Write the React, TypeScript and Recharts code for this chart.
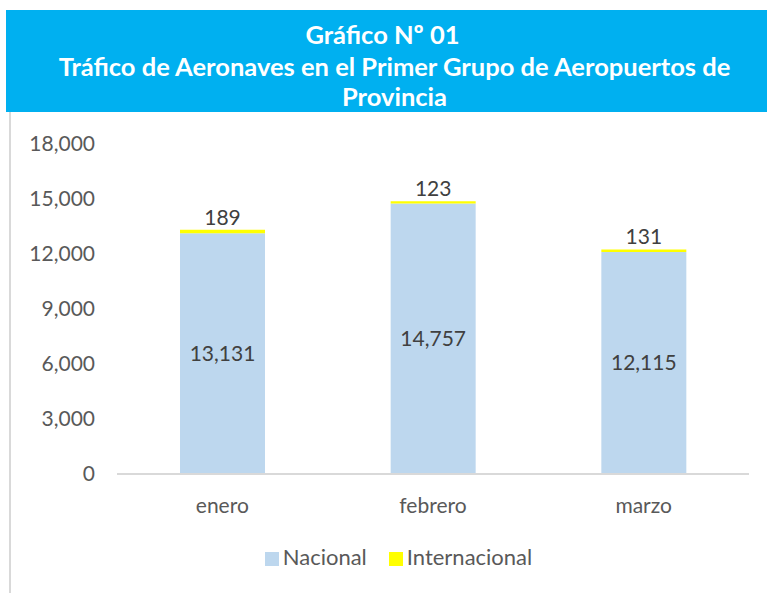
import React from "react";
import { BarChart, Bar, XAxis, YAxis, Legend, LabelList } from "recharts";

const months = ["enero", "febrero", "marzo"];
const nacional = [13131, 14757, 12115];
const internacional = [189, 123, 131];
const yTicks = [0, 3000, 6000, 9000, 12000, 15000, 18000];
const seriesOrder = ["Nacional", "Internacional"];

const titleLines = ["Gráfico Nº 01", "Tráfico de Aeronaves en el Primer Grupo de Aeropuertos de", "Provincia"];

const data = months.map((m, i) => ({ mes: m, Nacional: nacional[i], Internacional: internacional[i] }));

const fmt = (v: number) => v.toLocaleString("en-US");
const FONT = "Lato, 'Open Sans', sans-serif";

export default function App() {
  return (
    <div style={{ position: "absolute", left: 0, top: 0, width: 767, height: 593, background: "#fff", overflow: "hidden", fontFamily: FONT }}>
      <div style={{ position: "absolute", left: 6, top: 10, width: 761, height: 102, background: "#00B0F0", color: "#fff", fontWeight: 700, fontSize: 25.5 }}>
        <div style={{ position: "absolute", top: 9, left: 0, width: 761, textAlign: "center", lineHeight: "31px", marginLeft: -4 }}>{titleLines[0]}</div>
        <div style={{ position: "absolute", top: 41, left: 0, width: 761, textAlign: "center", lineHeight: "31px", marginLeft: 8 }}>{titleLines[1]}</div>
        <div style={{ position: "absolute", top: 71, left: 0, width: 761, textAlign: "center", lineHeight: "31px", marginLeft: 8 }}>{titleLines[2]}</div>
      </div>
      <div style={{ position: "absolute", left: 9, top: 112, width: 2, height: 481, background: "#d9d9d9" }} />
      <div style={{ position: "absolute", left: 0, top: 0 }}>
        <BarChart width={767} height={593} data={data} margin={{ top: 144, right: 18, bottom: 69, left: 0 }}>
          <YAxis
            width={117}
            domain={[0, 18000]}
            ticks={yTicks}
            interval={0}
            axisLine={false}
            tickLine={false}
            tickSize={0}
            tickMargin={22}
            tickFormatter={fmt}
            tick={{ fill: "#595959", fontSize: 21, fontFamily: FONT }}
          />
          <XAxis
            dataKey="mes"
            height={50}
            axisLine={{ stroke: "#d9d9d9", strokeWidth: 2 }}
            tickLine={false}
            tickSize={0}
            tickMargin={24}
            tick={{ fill: "#595959", fontSize: 21, fontFamily: FONT }}
          />
          <Legend
            layout="horizontal"
            verticalAlign="middle"
            align="center"
            iconType="square"
            iconSize={14}
            itemSorter={(item: any) => seriesOrder.indexOf(item.value)}
            wrapperStyle={{ top: 543, left: 20, width: 767, fontFamily: FONT, fontSize: 22 }}
            formatter={(v: string) => <span style={{ color: "#595959", marginRight: v === "Nacional" ? 12 : 0 }}>{v}</span>}
          />
          <Bar dataKey="Nacional" stackId="a" fill="#BDD7EE" barSize={85} isAnimationActive={false}>
            <LabelList dataKey="Nacional" position="center" formatter={fmt} style={{ fill: "#404040", fontSize: 21, fontFamily: FONT }} />
          </Bar>
          <Bar dataKey="Internacional" stackId="a" fill="#FFFF00" barSize={85} isAnimationActive={false}>
            <LabelList dataKey="Internacional" position="top" offset={5} formatter={fmt} style={{ fill: "#404040", fontSize: 21, fontFamily: FONT }} />
          </Bar>
        </BarChart>
      </div>
    </div>
  );
}
